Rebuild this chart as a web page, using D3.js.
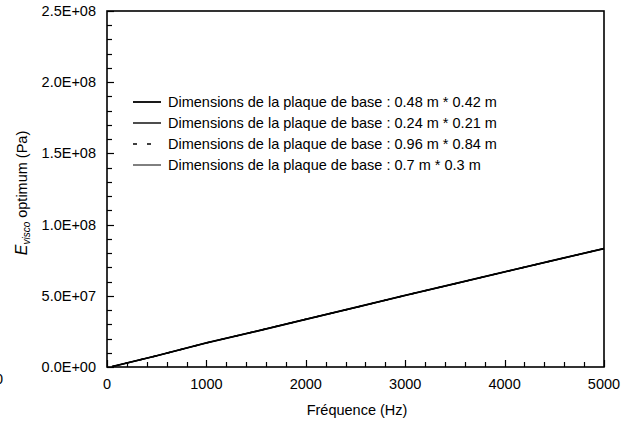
<html>
<meta charset="utf-8"></meta>
<script src="https://cdn.jsdelivr.net/npm/d3@7"></script>
<style>
body{margin:0;background:#fff;}
text{font-family:"Liberation Sans",Arial,sans-serif;fill:#000;}
</style>
<body>
<svg id="chart" width="626" height="423"></svg>
<script>
// data
var freq = [50, 500, 1000, 1500, 2000, 2500, 3000, 3500, 4000, 4500, 5000];
var s048x042 = [0.3e6, 7.9e6, 16.9e6, 25.1e6, 33.5e6, 41.8e6, 50.3e6, 58.5e6, 66.8e6, 75.0e6, 83.2e6];
var s024x021 = [0.3e6, 7.9e6, 16.9e6, 25.1e6, 33.5e6, 41.8e6, 50.3e6, 58.5e6, 66.8e6, 75.0e6, 83.2e6];
var s096x084 = [0.3e6, 7.9e6, 16.9e6, 25.1e6, 33.5e6, 41.8e6, 50.3e6, 58.5e6, 66.8e6, 75.0e6, 83.2e6];
var s07x03 = [0.3e6, 7.9e6, 16.9e6, 25.1e6, 33.5e6, 41.8e6, 50.3e6, 58.5e6, 66.8e6, 75.0e6, 83.2e6];
var legendLabels = [
	"Dimensions de la plaque de base : 0.48 m * 0.42 m",
	"Dimensions de la plaque de base : 0.24 m * 0.21 m",
	"Dimensions de la plaque de base : 0.96 m * 0.84 m",
	"Dimensions de la plaque de base : 0.7 m * 0.3 m"
];
var xTicks = [0, 1000, 2000, 3000, 4000, 5000];
var yTicks = [0, 5e7, 1e8, 1.5e8, 2e8, 2.5e8];

var series = [
	{vals: s048x042, w: 1.8, dash: null},
	{vals: s024x021, w: 1.4, dash: null},
	{vals: s096x084, w: 1.4, dash: "4,10"},
	{vals: s07x03, w: 1.0, dash: null}
];

var L = 107, R = 604, T = 11, B = 367;
var FS = 14.5;
var svg = d3.select("#chart");
var x = d3.scaleLinear().domain([0, 5000]).range([L, R]);
var y = d3.scaleLinear().domain([0, 2.5e8]).range([B, T]);

function sci(v){
	if (v == 0) return "0.0E+00";
	var e = Math.floor(Math.log10(v));
	var m = v / Math.pow(10, e);
	return m.toFixed(1) + "E+" + (e < 10 ? "0" + e : e);
}

// frame
svg.append("rect").attr("x", L).attr("y", T).attr("width", R - L).attr("height", B - T)
	.attr("fill", "none").attr("stroke", "#000").attr("stroke-width", 1.6);

// inward ticks, minor every 200 Hz / 1E+07, major at labels
var xMinor = d3.range(0, 5001, 200);
var yMinor = d3.range(0, 2.5e8 + 1, 1e7);
var gt = svg.append("g").attr("id", "ticks");
xMinor.forEach(function(d){
	var px = Math.round(x(d)) + 0.5;
	gt.append("line").attr("x1", px).attr("x2", px)
		.attr("y1", B).attr("y2", d % 1000 == 0 ? B - 7 : B - 5)
		.attr("stroke", "#000").attr("stroke-width", 1.2);
});
yMinor.forEach(function(d){
	var py = Math.round(y(d)) + 0.5;
	gt.append("line").attr("y1", py).attr("y2", py)
		.attr("x1", L).attr("x2", d % 5e7 == 0 ? L + 7 : L + 5)
		.attr("stroke", "#000").attr("stroke-width", 1.2);
});

// tick labels
svg.selectAll(".xl").data(xTicks).enter().append("text")
	.attr("x", function(d){ return x(d); }).attr("y", 389)
	.attr("text-anchor", "middle").attr("font-size", FS).text(function(d){ return d; });
svg.selectAll(".yl").data(yTicks).enter().append("text")
	.attr("x", 96).attr("y", function(d){ return y(d) + 5; })
	.attr("text-anchor", "end").attr("font-size", FS).text(sci);

// clipped label at left edge (as in the source scan)
svg.append("text").attr("x", -5).attr("y", 384).attr("font-size", FS).text("0");

// axis titles
svg.append("text").attr("x", 357).attr("y", 415).attr("text-anchor", "middle")
	.attr("font-size", FS).text("Fréquence (Hz)");
var yt = svg.append("text").attr("transform", "translate(27,193) rotate(-90)")
	.attr("text-anchor", "middle").attr("font-size", FS);
yt.append("tspan").attr("font-style", "italic").attr("font-size", 16).text("E");
yt.append("tspan").attr("font-style", "italic").attr("font-size", 10).attr("dy", 3).text("visco");
yt.append("tspan").attr("dy", -3).text(" optimum (Pa)");

// lines
var line = d3.line().x(function(d, i){ return x(freq[i]); }).y(function(d){ return y(d); });
series.forEach(function(s){
	svg.append("path").datum(s.vals).attr("d", line)
		.attr("fill", "none").attr("stroke", "#000").attr("stroke-width", s.w)
		.attr("stroke-dasharray", s.dash);
});

// legend
var legY = [102, 123, 144, 165];
series.forEach(function(s, i){
	svg.append("line").attr("x1", 133).attr("x2", 161).attr("y1", legY[i]).attr("y2", legY[i])
		.attr("stroke", "#000").attr("stroke-width", s.w).attr("stroke-dasharray", s.dash);
	svg.append("text").attr("x", 168).attr("y", legY[i] + 5).attr("font-size", FS).text(legendLabels[i]);
});
</script>
</body>
</html>
